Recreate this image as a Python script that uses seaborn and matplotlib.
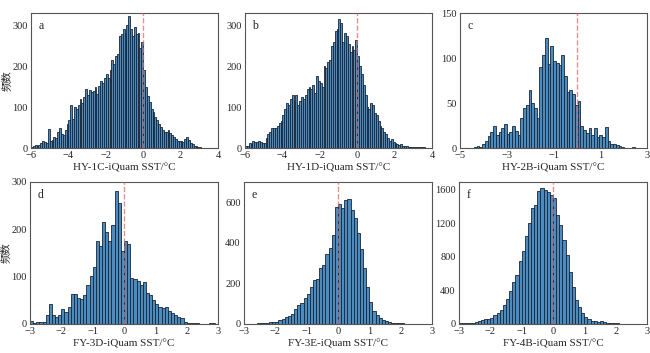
import numpy as np
import pandas as pd
import matplotlib
matplotlib.use('Agg')
import matplotlib.pyplot as plt
import seaborn as sns

# bin counts (bin width 0.1 unless noted)
a_start, a_width = -6.0, 0.1
a_counts = [3, 5, 8, 6, 7, 12, 18, 14, 12, 46,
            16, 20, 28, 25, 40, 48, 35, 32, 45, 58,
            68, 105, 72, 100, 95, 105, 120, 110, 125, 145,
            130, 142, 138, 140, 148, 132, 152, 165, 158, 172,
            180, 170, 190, 215, 205, 225, 230, 275, 278, 290,
            282, 300, 322, 290, 275, 295, 278, 280, 245, 260,
            190, 150, 128, 112, 95, 88, 75, 68, 58, 52,
            45, 40, 38, 45, 36, 32, 28, 22, 18, 16,
            17, 14, 22, 26, 20, 12, 9, 6, 4, 2,
            2, 1, 1, 1, 1, 1, 1, 1, 1, 0]

b_start, b_width = -6.0, 0.1
b_counts = [6, 5, 12, 10, 18, 15, 14, 16, 14, 12,
            12, 25, 35, 40, 48, 50, 48, 55, 60, 65,
            80, 95, 110, 105, 120, 130, 115, 130, 105, 115,
            125, 120, 130, 145, 150, 145, 155, 135, 175, 165,
            160, 150, 200, 195, 210, 215, 250, 260, 285, 290,
            315, 305, 260, 280, 275, 255, 235, 250, 240, 265,
            225, 200, 180, 155, 130, 100, 95, 110, 105, 85,
            80, 65, 55, 50, 40, 35, 25, 18, 22, 15,
            12, 10, 8, 10, 6, 5, 4, 3, 3, 3,
            2, 2, 2, 3, 2, 2, 1, 1, 0, 0]

c_start, c_width = -4.4, 7.0 / 60
c_counts = [1, 2, 1, 4, 8, 13, 18, 25, 14, 18,
            22, 27, 16, 18, 25, 19, 15, 33, 45, 48,
            64, 50, 45, 33, 90, 103, 122, 93, 113, 97,
            95, 92, 103, 80, 62, 65, 60, 48, 52, 25,
            20, 17, 22, 15, 22, 12, 15, 12, 23, 8,
            5, 5, 3, 2, 1, 0, 0, 0, 1, 0]

d_start, d_width = -3.0, 0.1
d_counts = [6, 3, 4, 5, 5, 20, 43, 20, 15, 20,
            32, 25, 35, 63, 63, 55, 52, 62, 82, 102,
            120, 175, 165, 215, 195, 175, 210, 280, 255, 155,
            175, 170, 97, 95, 90, 82, 88, 66, 62, 50,
            42, 35, 33, 35, 28, 24, 20, 15, 12, 5,
            3, 3, 2, 2, 1, 1, 1, 2, 2, 1]

e_start, e_width = -3.0, 0.1
e_counts = [1, 1, 2, 2, 3, 3, 4, 6, 10, 8,
            12, 18, 25, 32, 38, 50, 75, 92, 105, 130,
            150, 180, 218, 222, 275, 290, 345, 375, 440, 575,
            590, 570, 610, 618, 560, 520, 450, 370, 275, 180,
            110, 62, 42, 30, 22, 15, 12, 6, 4, 3,
            3, 2, 2, 1, 1, 1, 1, 0, 0, 1]

f_start, f_width = -3.0, 0.1
f_counts = [6, 8, 10, 12, 15, 22, 30, 45, 55, 62,
            75, 110, 130, 165, 230, 300, 390, 500, 580, 750,
            870, 1050, 1200, 1380, 1420, 1580, 1620, 1590, 1570, 1540,
            1500, 1300, 1180, 1000, 820, 620, 440, 290, 200, 130,
            80, 55, 40, 30, 25, 30, 20, 15, 10, 8,
            6, 5, 4, 3, 3, 2, 2, 2, 1, 1]

letters = ['a', 'b', 'c', 'd', 'e', 'f']
xlabels = ['HY-1C-iQuam SST/°C', 'HY-1D-iQuam SST/°C', 'HY-2B-iQuam SST/°C',
           'FY-3D-iQuam SST/°C', 'FY-3E-iQuam SST/°C', 'FY-4B-iQuam SST/°C']
xlims = [(-6, 4), (-6, 4), (-5, 3), (-3, 3), (-3, 3), (-3, 3)]
xticks = [[-6, -4, -2, 0, 2, 4], [-6, -4, -2, 0, 2, 4], [-5, -3, -1, 1, 3],
          [-3, -2, -1, 0, 1, 2, 3], [-3, -2, -1, 0, 1, 2, 3], [-3, -2, -1, 0, 1, 2, 3]]
ylims = [(0, 330), (0, 330), (0, 150), (0, 300), (0, 700), (0, 1690)]
yticks = [[0, 100, 200, 300], [0, 100, 200, 300], [0, 50, 100, 150],
          [0, 100, 200, 300], [0, 200, 400, 600], [0, 400, 800, 1200, 1600]]

sns.set_style('ticks')
plt.rcParams['font.family'] = ['Liberation Serif', 'Noto Sans CJK SC']
plt.rcParams['axes.unicode_minus'] = True

fig = plt.figure(figsize=(6.5, 3.53), dpi=100)
positions = [
    [0.0477, 0.5807, 0.2877, 0.3824],
    [0.3769, 0.5807, 0.2877, 0.3824],
    [0.7077, 0.5807, 0.2877, 0.3824],
    [0.0462, 0.0822, 0.2892, 0.4023],
    [0.3754, 0.0822, 0.2892, 0.4023],
    [0.7062, 0.0822, 0.2892, 0.4023],
]

panels = [(a_start, a_width, a_counts), (b_start, b_width, b_counts),
          (c_start, c_width, c_counts), (d_start, d_width, d_counts),
          (e_start, e_width, e_counts), (f_start, f_width, f_counts)]

for i, (start, width, counts) in enumerate(panels):
    ax = fig.add_axes(positions[i])
    edges = [start + width * k for k in range(len(counts) + 1)]
    centers = [(edges[k] + edges[k + 1]) / 2 for k in range(len(counts))]
    df = pd.DataFrame({'sst': centers, 'n': counts})
    sns.histplot(data=df, x='sst', weights='n', bins=edges, ax=ax,
                 color='#4a8cc0', edgecolor='#1b2535', linewidth=0.6, alpha=1.0)
    ax.axvline(0, color='#e06a6a', linestyle='--', linewidth=1.0, alpha=0.75, zorder=5)
    ax.set_xlim(*xlims[i])
    ax.set_ylim(*ylims[i])
    ax.set_xticks(xticks[i])
    ax.set_yticks(yticks[i])
    ax.set_xlabel(xlabels[i], fontsize=8, labelpad=2)
    if i in (0, 3):
        ax.set_ylabel('频数', fontsize=7.5)
        ax.yaxis.set_label_coords(-0.105, 0.5)
    else:
        ax.set_ylabel('')
    ax.tick_params(labelsize=7.5, length=0, pad=2.5)
    for sp in ax.spines.values():
        sp.set_visible(True)
        sp.set_linewidth(0.8)
        sp.set_color('#555555')
    ax.text(0.04, 0.95, letters[i], transform=ax.transAxes, fontsize=8.5,
            va='top', ha='left')

fig.savefig('out.png', dpi=100)
